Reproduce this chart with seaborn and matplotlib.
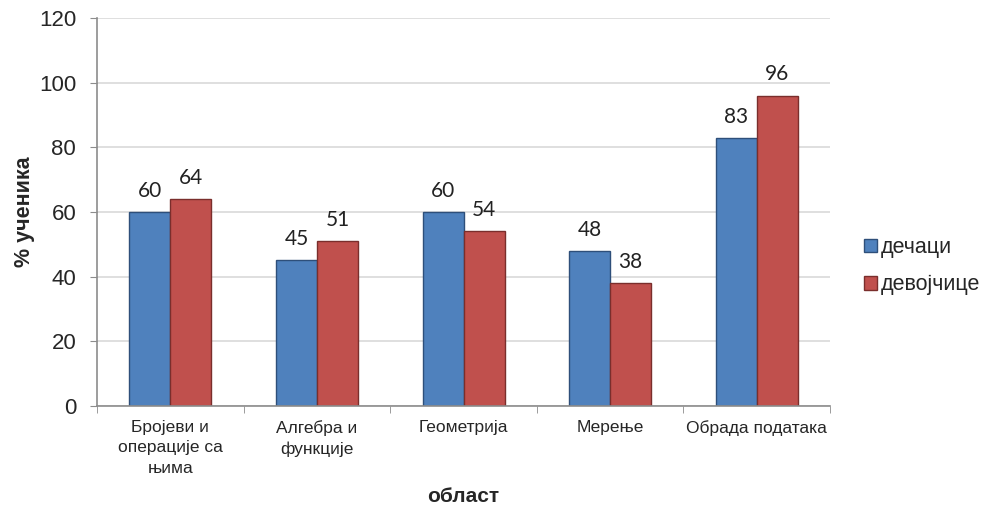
import pandas as pd
import numpy as np
import matplotlib
matplotlib.use("Agg")
import matplotlib.pyplot as plt
import seaborn as sns

# подаци
oblasti = ["Бројеви и\nоперације са\nњима", "Алгебра и\nфункције", "Геометрија", "Мерење", "Обрада података"]
decaci = [60, 45, 60, 48, 83]
devojcice = [64, 51, 54, 38, 96]
serije = ["дечаци", "девојчице"]
boje = ["#4F81BD", "#C0504D"]
ivice = ["#2E4F7A", "#7A2E2C"]

df = pd.DataFrame({
    "oblast": oblasti * 2,
    "pol": [serije[0]] * 5 + [serije[1]] * 5,
    "vrednost": decaci + devojcice,
})

sns.set_style("white")
plt.rcParams["font.family"] = ["Liberation Sans", "DejaVu Sans"]

fig = plt.figure(figsize=(9.84, 5.08), dpi=100)
ax = fig.add_axes([0.0986, 0.2008, 0.745, 0.7638])

sns.barplot(data=df, x="oblast", y="vrednost", hue="pol", palette=boje,
            width=0.56, gap=0, ax=ax, legend=True, saturation=1)

# ivice stubica i natpisi
for i, cont in enumerate(ax.containers):
    for bar in cont:
        bar.set_edgecolor(ivice[i])
        bar.set_linewidth(1.0)
    ax.bar_label(cont, padding=8, fontsize=15, family="Lato", color="#222222")

ax.set_ylim(0, 120)
ax.set_yticks(range(0, 121, 20))
ax.set_xlim(-0.5, 4.5)
ax.yaxis.grid(True, color="#D9D9D9", linewidth=1.2)
ax.set_axisbelow(True)
for s in ["top", "right"]:
    ax.spines[s].set_visible(False)
for s in ["left", "bottom"]:
    ax.spines[s].set_color("#8C8C8C")
    ax.spines[s].set_linewidth(1.2)

ax.tick_params(axis="y", labelsize=16, length=5, color="#8C8C8C", left=True, pad=10)
ax.tick_params(axis="x", labelsize=12.5, length=0, pad=10)
for t in ax.get_xticklabels():
    t.set_linespacing(1.45)
ax.set_xticks(np.arange(-0.5, 5, 1), minor=True)
ax.tick_params(axis="x", which="minor", length=5, color="#8C8C8C", bottom=True)

ax.set_ylabel("% ученика", fontsize=15.5, fontweight="bold", labelpad=3)
ax.set_xlabel("област", fontsize=15, fontweight="bold", labelpad=8)

leg = ax.legend(loc="center left", bbox_to_anchor=(1.02, 0.36), frameon=False,
                fontsize=15.5, handlelength=0.6, handleheight=0.6, handletextpad=0.15,
                labelspacing=0.75, title=None)
for h, c in zip(leg.legend_handles, ivice):
    h.set_edgecolor(c)

fig.savefig("out.png", dpi=100)
